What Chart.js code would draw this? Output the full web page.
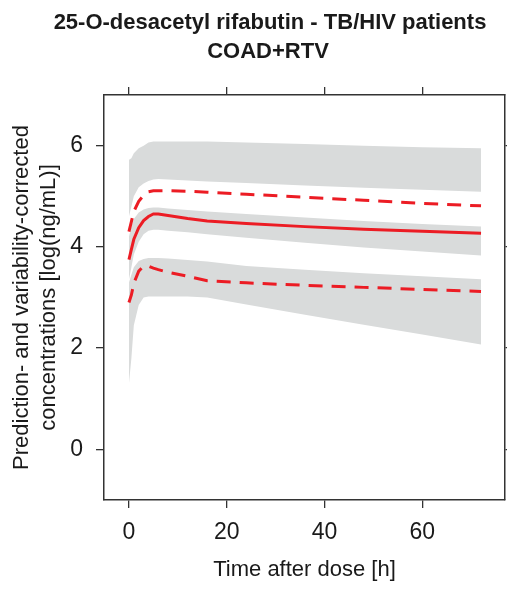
<!DOCTYPE html>
<html>
<head>
<meta charset="utf-8">
<script src="https://cdn.jsdelivr.net/npm/chart.js@4.4.1/dist/chart.umd.min.js"></script>
<style>
  html, body { margin: 0; padding: 0; background: #fff; }
  #wrap { width: 507px; height: 589px; }
</style>
</head>
<body>
<div id="wrap"><canvas id="vpc" width="507" height="589"></canvas></div>
<script>
// ------------ DATA ------------
const titleLines = ["25-O-desacetyl rifabutin - TB/HIV patients", "COAD+RTV"];
const xTitle = "Time after dose [h]";
const yTitle = ["Prediction- and variability-corrected", "concentrations [log(ng/mL)]"];
const xTicks = [0, 20, 40, 60];
const yTicks = [0, 2, 4, 6];

const times   = [0, 0.5, 1, 2, 3, 4, 5, 6, 8, 12, 16, 24, 36, 48, 60, 72];
const median  = [3.75, 3.95, 4.15, 4.38, 4.52, 4.60, 4.65, 4.65, 4.62, 4.56, 4.51, 4.46, 4.40, 4.35, 4.31, 4.27];
const p95     = [4.30, 4.50, 4.70, 4.90, 5.02, 5.09, 5.11, 5.11, 5.11, 5.10, 5.08, 5.04, 4.98, 4.92, 4.86, 4.81];
const p05     = [2.90, 3.05, 3.28, 3.52, 3.62, 3.62, 3.58, 3.55, 3.50, 3.42, 3.33, 3.29, 3.24, 3.20, 3.16, 3.12];

// confidence bands (upper / lower edge) around each percentile
const hiBandUp  = [5.72, 5.75, 5.85, 5.95, 6.00, 6.06, 6.08, 6.08, 6.08, 6.08, 6.08, 6.06, 6.03, 6.00, 5.97, 5.95];
const hiBandLo  = [4.60, 4.80, 5.00, 5.18, 5.25, 5.30, 5.33, 5.34, 5.33, 5.31, 5.29, 5.26, 5.21, 5.17, 5.13, 5.09];
const midBandUp = [4.20, 4.40, 4.55, 4.68, 4.74, 4.77, 4.78, 4.78, 4.76, 4.73, 4.70, 4.65, 4.58, 4.51, 4.45, 4.40];
const midBandLo = [3.35, 3.60, 3.85, 4.10, 4.25, 4.32, 4.34, 4.34, 4.32, 4.29, 4.25, 4.18, 4.08, 3.99, 3.91, 3.83];
const loBandUp  = [3.30, 3.45, 3.60, 3.72, 3.76, 3.78, 3.78, 3.78, 3.77, 3.74, 3.71, 3.62, 3.55, 3.48, 3.42, 3.36];
const loBandLo  = [1.30, 1.80, 2.45, 2.85, 3.00, 3.02, 3.02, 3.02, 3.02, 3.02, 3.00, 2.86, 2.66, 2.46, 2.27, 2.07];

// ------------ STYLE ------------
const bandColor = "#d9dbdb";
const redColor = "#ec1c24";
const axisColor = "#333333";
const textColor = "#1a1a1a";
const fontFamily = '"Liberation Sans", Arial, Helvetica, sans-serif';

function pts(ys) {
    return times.map((t, i) => ({x: t, y: ys[i]}));
}

function band(ys, fill) {
    return {
        data: pts(ys),
        fill: fill,
        backgroundColor: bandColor,
        borderColor: "transparent",
        borderWidth: 0,
        pointRadius: 0,
        order: 2
    };
}

function redLine(ys, dash) {
    return {
        data: pts(ys),
        fill: false,
        borderColor: redColor,
        borderWidth: 3,
        borderDash: dash,
        pointRadius: 0,
        tension: 0,
        order: 0
    };
}

// ------- TITLE (centred over the figure like the original) -------
const plotTitle = {
    id: "plotTitle",
    afterDraw(chart) {
        const ctx = chart.ctx;
        ctx.save();
        ctx.font = "bold 22px " + fontFamily;
        ctx.fillStyle = textColor;
        ctx.textAlign = "center";
        ctx.textBaseline = "alphabetic";
        ctx.fillText(titleLines[0], 270, 29);
        ctx.fillText(titleLines[1], 268, 58);
        ctx.restore();
    }
};

function fixedTicks(list) {
    return (scale) => { scale.ticks = list.map(v => ({value: v})); };
}

const gridOpts = {
    display: true,
    drawOnChartArea: false,
    drawTicks: true,
    tickLength: 8,
    color: axisColor,
    lineWidth: 1.3
};
const borderOpts = { display: true, color: axisColor, width: 1.5 };

new Chart(document.getElementById("vpc"), {
    type: "line",
    data: {
        datasets: [
            band(hiBandUp, "+1"),
            band(hiBandLo, false),
            band(midBandUp, "+1"),
            band(midBandLo, false),
            band(loBandUp, "+1"),
            band(loBandLo, false),
            redLine(median, []),
            redLine(p95, [14, 9]),
            redLine(p05, [14, 9])
        ]
    },
    options: {
        responsive: false,
        animation: false,
        devicePixelRatio: 1,
        layout: { padding: 0 },
        plugins: {
            legend: { display: false },
            tooltip: { enabled: false },
            title: { display: false }
        },
        scales: {
            x: {
                type: "linear",
                position: "bottom",
                min: -5.1,
                max: 76.9,
                afterBuildTicks: fixedTicks(xTicks),
                afterFit: (s) => { s.height = 89; },
                grid: gridOpts,
                border: borderOpts,
                ticks: {
                    color: textColor,
                    padding: 11,
                    maxRotation: 0,
                    font: { size: 23, family: fontFamily }
                },
                title: {
                    display: true,
                    text: xTitle,
                    color: textColor,
                    padding: { top: 0, bottom: 6 },
                    font: { size: 22, family: fontFamily }
                }
            },
            xTop: {
                type: "linear",
                position: "top",
                min: -5.1,
                max: 76.9,
                afterBuildTicks: fixedTicks(xTicks),
                afterFit: (s) => { s.height = 95; },
                grid: gridOpts,
                border: borderOpts,
                ticks: { display: false }
            },
            y: {
                type: "linear",
                position: "left",
                min: -1,
                max: 7,
                afterBuildTicks: fixedTicks(yTicks),
                afterFit: (s) => { s.width = 104; },
                grid: gridOpts,
                border: borderOpts,
                ticks: {
                    color: textColor,
                    padding: 13,
                    font: { size: 23, family: fontFamily }
                },
                title: {
                    display: true,
                    text: yTitle,
                    color: textColor,
                    padding: { top: 9, bottom: 0 },
                    font: { size: 22, family: fontFamily }
                }
            },
            yRight: {
                type: "linear",
                position: "right",
                min: -1,
                max: 7,
                afterBuildTicks: fixedTicks(yTicks),
                afterFit: (s) => { s.width = 2; },
                grid: gridOpts,
                border: borderOpts,
                ticks: { display: false }
            }
        }
    },
    plugins: [plotTitle]
});
</script>
</body>
</html>
